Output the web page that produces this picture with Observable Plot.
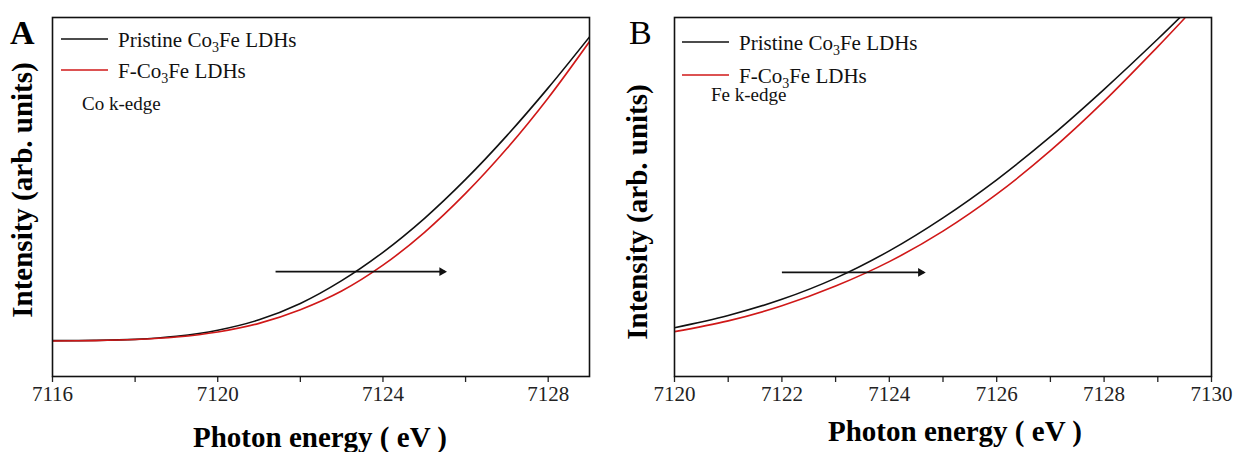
<!DOCTYPE html>
<html><head><meta charset="utf-8">
<script src="https://cdn.jsdelivr.net/npm/d3@7"></script>
<script src="https://cdn.jsdelivr.net/npm/@observablehq/plot@0.6"></script>
<style>
body{margin:0;background:#fff;}
#wrap{display:flex;width:1235px;height:452px;overflow:hidden;}
#wrap svg{flex:none;font-family:"Liberation Serif","Times New Roman",serif;}
</style></head><body><div id="wrap"></div>
<script>
// Panel A: Co K-edge
const energyA   = [7116,7117,7118,7119,7120,7121,7122,7123,7124,7125,7126,7127,7128,7129];
const pristineA = [0.100,0.1005,0.1035,0.112,0.129,0.158,0.2035,0.267,0.346,0.440,0.549,0.671,0.804,0.946];
const fluorA    = [0.099,0.100,0.103,0.110,0.124,0.148,0.186,0.238,0.310,0.401,0.510,0.635,0.776,0.933];
// Panel B: Fe K-edge
const energyB   = [7120,7121,7122,7123,7124,7125,7126,7127,7128,7129,7129.5];
const pristineB = [0.136,0.170,0.215,0.274,0.350,0.442,0.548,0.668,0.800,0.940,1.013];
const fluorB    = [0.125,0.155,0.197,0.252,0.320,0.405,0.508,0.629,0.767,0.919,0.998];
// axes: labelled ticks and all tick positions
const ticksA = [7116,7120,7124,7128];
const minorA = [7116,7118,7120,7122,7124,7126,7128];
const ticksB = [7120,7122,7124,7126,7128,7130];
const minorB = [7120,7121,7122,7123,7124,7125,7126,7127,7128,7129,7130];
// shift arrows
const arrowFrom = [7121.4, 7122.0];
const arrowTo   = [7125.5, 7124.64];
const arrowY    = [0.292, 0.290];
const seriesNames = ["Pristine Co3Fe LDHs", "F-Co3Fe LDHs"];
const colors = ["#111111", "#d01818"];

function panel(o) {
  const rows = (e, v) => e.map((x, i) => ({x, v: v[i]}));
  const arrow = [{x1: o.a1, x2: o.a2, y: o.ay}];
  const svg = Plot.plot({
    width: o.width, height: 452,
    marginLeft: o.ml, marginRight: o.mr, marginTop: 17, marginBottom: 76,
    style: {fontFamily: '"Liberation Serif", serif', fontSize: "21px", color: "#222", background: "#fff"},
    x: {domain: o.domain},
    y: {domain: [0, 1], axis: null},
    marks: [
      Plot.line(rows(o.energy, o.s1), {x: "x", y: "v", stroke: colors[0], strokeWidth: 1.6, curve: "catmull-rom", clip: true}),
      Plot.line(rows(o.energy, o.s2), {x: "x", y: "v", stroke: colors[1], strokeWidth: 1.6, curve: "catmull-rom", clip: true}),
      Plot.link(arrow, {x1: "x1", x2: "x2", y1: "y", y2: "y", stroke: "#111", strokeWidth: 1.6}),
      Plot.dot(arrow, {x: "x2", y: "y", symbol: "triangle2", r: 4.2, fill: "#111", rotate: 90, dx: -3}),
      Plot.axisX({ticks: o.minor, tickSize: 6, tickPadding: 4, label: null, fontSize: 21, strokeWidth: 1.3,
                  tickFormat: d => o.ticks.includes(d) ? String(d) : ""}),
      Plot.frame({stroke: "#111", strokeWidth: 1.6})
    ]
  });
  const g = d3.select(svg);
  const serif = '"Liberation Serif", serif';
  // panel letter
  g.append("text").attr("x", o.letterX).attr("y", 44).attr("font-size", 34).attr("text-anchor", "start")
    .attr("font-weight", o.letterBold ? "bold" : "normal").attr("font-family", serif).attr("fill", "#000").text(o.letter);
  // y title
  g.append("text").attr("transform", `translate(${o.ytx},${o.yty}) rotate(-90)`)
    .attr("text-anchor", "middle").attr("dominant-baseline", "middle")
    .attr("font-size", 29).attr("font-weight", "bold").attr("font-family", serif).attr("fill", "#000")
    .text("Intensity (arb. units)");
  // x title
  g.append("text").attr("x", o.xtx).attr("y", o.xty).attr("text-anchor", "middle")
    .attr("font-size", 29).attr("font-weight", "bold").attr("font-family", serif).attr("fill", "#000")
    .text("Photon energy ( eV )");
  // legend
  const leg = g.append("g").attr("font-family", serif).attr("fill", "#111").attr("text-anchor", "start");
  o.legY.forEach((ly, i) => {
    leg.append("line").attr("x1", o.legX).attr("x2", o.legX + 47).attr("y1", ly).attr("y2", ly)
      .attr("stroke", colors[i]).attr("stroke-width", 1.6);
    const parts = seriesNames[i].split("3");
    const t = leg.append("text").attr("x", o.legX + 57).attr("y", ly + 8).attr("font-size", 21);
    t.append("tspan").text(parts[0]);
    t.append("tspan").attr("dy", 5).attr("font-size", 14).text("3");
    t.append("tspan").attr("dy", -5).text(parts[1]);
  });
  leg.append("text").attr("x", o.edgeX).attr("y", o.edgeY).attr("font-size", 19).text(o.edge);
  return svg;
}

const wrap = document.getElementById("wrap");
wrap.append(panel({
  width: 617, ml: 52, mr: 28, domain: [7116, 7129],
  energy: energyA, s1: pristineA, s2: fluorA, ticks: ticksA, minor: minorA,
  a1: arrowFrom[0], a2: arrowTo[0], ay: arrowY[0],
  letter: "A", letterX: 10, letterBold: true,
  ytx: 25, yty: 190, xtx: 320, xty: 447,
  legX: 61, legY: [39, 70], edge: "Co k-edge", edgeX: 82, edgeY: 110
}));
wrap.append(panel({
  width: 618, ml: 57, mr: 24, domain: [7120, 7130],
  energy: energyB, s1: pristineB, s2: fluorB, ticks: ticksB, minor: minorB,
  a1: arrowFrom[1], a2: arrowTo[1], ay: arrowY[1],
  letter: "B", letterX: 12, letterBold: false,
  ytx: 23, yty: 212, xtx: 338, xty: 441,
  legX: 65, legY: [42, 75], edge: "Fe k-edge", edgeX: 94, edgeY: 101
}));
</script></body></html>
